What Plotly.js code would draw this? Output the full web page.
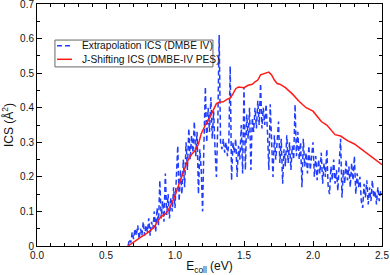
<!DOCTYPE html>
<html>
<head>
<meta charset="utf-8">
<script src="https://cdn.plot.ly/plotly-3.0.1.min.js"></script>
<style>html,body{margin:0;padding:0;background:#fff;}#chart{width:390px;height:275px;}</style>
</head>
<body>
<div id="chart"></div>
<script>
// Extrapolation ICS (DMBE IV): energies start at 0.66 eV with 0.01 eV spacing
const extrapStartE = 0.66;
const extrapStepE = 0.01;
const extrapICS = [
  0.00,0.02,0.01,0.04,0.02,0.05,0.03,0.06,0.02,0.05,
  0.03,0.07,0.03,0.06,0.04,0.08,0.03,0.07,0.05,0.10,
  0.04,0.11,0.06,0.19,0.08,0.13,0.07,0.21,0.09,0.15,
  0.08,0.14,0.10,0.17,0.11,0.20,0.29,0.13,0.22,0.15,
  0.25,0.17,0.30,0.22,0.34,0.25,0.32,0.27,0.36,0.26,
  0.33,0.15,0.28,0.22,0.10,0.30,0.46,0.30,0.40,0.33,
  0.43,0.31,0.39,0.28,0.20,0.35,0.61,0.30,0.28,0.31,
  0.27,0.30,0.26,0.30,0.52,0.19,0.30,0.27,0.31,0.20,
  0.29,0.25,0.35,0.21,0.46,0.22,0.38,0.31,0.40,0.22,
  0.37,0.33,0.40,0.34,0.42,0.35,0.47,0.34,0.40,0.35,
  0.41,0.33,0.22,0.41,0.30,0.20,0.32,0.25,0.30,0.36,
  0.24,0.31,0.18,0.28,0.23,0.32,0.24,0.30,0.22,0.29,
  0.25,0.41,0.26,0.33,0.25,0.30,0.17,0.31,0.23,0.27,
  0.21,0.29,0.22,0.26,0.30,0.20,0.26,0.19,0.25,0.21,
  0.27,0.18,0.24,0.20,0.28,0.17,0.15,0.23,0.19,0.25,
  0.18,0.22,0.16,0.24,0.31,0.14,0.22,0.18,0.25,0.19,
  0.23,0.17,0.24,0.19,0.26,0.15,0.21,0.17,0.20,0.13,
  0.11,0.18,0.14,0.19,0.12,0.17,0.13,0.19,0.14,0.16,
  0.12,0.17,0.13,0.16,0.15
];
// J-Shifting ICS (DMBE-IV PES)
const jshiftE = [0.66,0.70,0.75,0.80,0.85,0.88,0.90,0.93,0.95,0.97,1.00,1.03,1.06,1.09,1.12,1.15,1.17,1.19,1.22,1.25,1.28,1.30,1.32,1.35,1.38,1.40,1.42,1.44,1.46,1.50,1.53,1.56,1.58,1.60,1.62,1.64,1.66,1.68,1.70,1.72,1.74,1.76,1.80,1.85,1.90,1.95,2.00,2.03,2.06,2.10,2.13,2.16,2.20,2.25,2.30,2.35,2.40,2.45,2.50];
const jshiftICS = [0,0.012,0.025,0.038,0.055,0.075,0.085,0.093,0.103,0.118,0.145,0.18,0.215,0.245,0.265,0.278,0.295,0.325,0.35,0.37,0.395,0.412,0.416,0.417,0.425,0.428,0.44,0.455,0.46,0.458,0.465,0.468,0.475,0.48,0.495,0.498,0.50,0.503,0.495,0.48,0.47,0.468,0.458,0.44,0.418,0.40,0.39,0.375,0.36,0.35,0.335,0.322,0.318,0.305,0.295,0.28,0.265,0.25,0.235];

const seriesNames = ['Extrapolation ICS (DMBE IV)', 'J-Shifting ICS (DMBE-IV PES)'];
const yTickVals = [0,0.1,0.2,0.3,0.4,0.5,0.6,0.7];
const yTickText = ['0','0.1','0.2','0.3','0.4','0.5','0.6','0.7'];

const font = 'Liberation Sans, Arial, sans-serif';
const blueLine = {color: '#1f3cff', width: 1.5, dash: '5px,3px'};
const redLine = {color: '#ff1a1a', width: 1.5};
const traces = [
  {x0: extrapStartE, dx: extrapStepE, y: extrapICS, type: 'scatter', mode: 'lines',
   name: seriesNames[0], showlegend: false, line: blueLine},
  {x: jshiftE, y: jshiftICS, type: 'scatter', mode: 'lines',
   name: seriesNames[1], showlegend: false, line: redLine}
];
const axisCommon = {
  showline: true, linecolor: '#000', linewidth: 1, mirror: 'ticks',
  ticks: 'inside', ticklen: 5, tickwidth: 1, tickcolor: '#000',
  showgrid: false, zeroline: false, ticklabeloverflow: 'allow',
  tickfont: {family: font, size: 10, color: '#111'}
};
// compact legend box (paper coordinates)
const lg = {x0: 0.052, x1: 0.510, y0: 0.740, y1: 0.851, rows: [0.8277, 0.7715], sx0: 0.058, sx1: 0.1014, tx: 0.1246};
const layout = {
  width: 390, height: 275,
  margin: {l: 37, r: 8, t: 4, b: 29},
  paper_bgcolor: '#fff', plot_bgcolor: '#fff',
  showlegend: false,
  xaxis: Object.assign({}, axisCommon, {
    range: [0, 2.5], dtick: 0.5, tick0: 0, tickformat: '.1f',
    minor: {dtick: 0.1, ticks: 'inside', ticklen: 3, tickcolor: '#000', showgrid: false},
    title: {text: 'E<sub>coll</sub> (eV)', font: {family: font, size: 12, color: '#111'}, standoff: 3}
  }),
  yaxis: Object.assign({}, axisCommon, {
    range: [0, 0.7], tickvals: yTickVals, ticktext: yTickText,
    minor: {dtick: 0.05, tick0: 0, ticks: 'inside', ticklen: 3, tickcolor: '#000', showgrid: false},
    title: {text: 'ICS (Å<sup>2</sup>)', font: {family: font, size: 12, color: '#111'}, standoff: 5}
  }),
  shapes: [
    {type: 'rect', xref: 'paper', yref: 'paper', x0: lg.x0, x1: lg.x1, y0: lg.y0, y1: lg.y1,
     line: {color: '#666', width: 1}, fillcolor: '#fff', layer: 'above'},
    {type: 'line', xref: 'paper', yref: 'paper', x0: lg.sx0, x1: lg.sx1, y0: lg.rows[0], y1: lg.rows[0],
     line: blueLine, layer: 'above'},
    {type: 'line', xref: 'paper', yref: 'paper', x0: lg.sx0, x1: lg.sx1, y0: lg.rows[1], y1: lg.rows[1],
     line: redLine, layer: 'above'}
  ],
  annotations: seriesNames.map((n, i) => ({
    text: n, xref: 'paper', yref: 'paper', x: lg.tx, y: lg.rows[i],
    xanchor: 'left', yanchor: 'middle', showarrow: false,
    font: {family: font, size: 10.2, color: '#111'}
  }))
};
Plotly.newPlot('chart', traces, layout, {displayModeBar: false, staticPlot: true});
</script>
</body>
</html>
